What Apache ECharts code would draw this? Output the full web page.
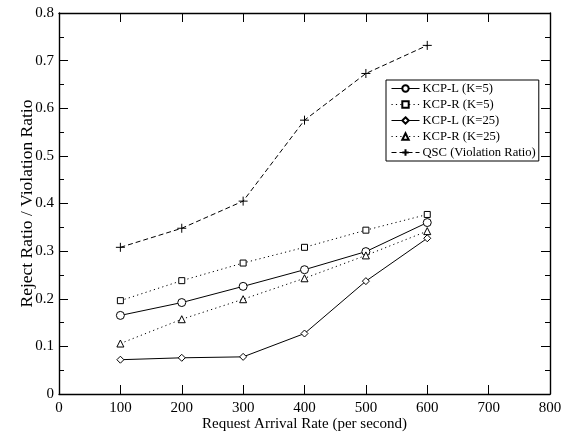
<!DOCTYPE html>
<html>
<head>
<meta charset="utf-8">
<script src="https://cdn.jsdelivr.net/npm/echarts@6/dist/echarts.min.js"></script>
<style>
html,body{margin:0;padding:0;background:#fff;}
#chart{width:569px;height:433px;}
</style>
</head>
<body>
<div id="chart"></div>
<script>
const xValues = [100, 200, 300, 400, 500, 600];
const kcpL5 = [0.165, 0.192, 0.226, 0.261, 0.299, 0.360];
const kcpR5 = [0.196, 0.238, 0.275, 0.308, 0.344, 0.377];
const kcpL25 = [0.072, 0.076, 0.078, 0.127, 0.237, 0.327];
const kcpR25 = [0.106, 0.157, 0.199, 0.243, 0.291, 0.342];
const qsc = [0.308, 0.348, 0.405, 0.575, 0.673, 0.732];
const seriesNames = ['KCP-L (K=5)', 'KCP-R (K=5)', 'KCP-L (K=25)', 'KCP-R (K=25)', 'QSC (Violation Ratio)'];
const xAxisTitle = 'Request Arrival Rate (per second)';
const yAxisTitle = 'Reject Ratio / Violation Ratio';

const FONT = 'Liberation Serif';
const pairs = arr => xValues.map((x, i) => [x, arr[i]]);
const axisLine = { show: true, onZero: false, lineStyle: { color: '#000', width: 1.4 } };
const tickStyle = { color: '#000', width: 1 };

function mkSeries(name, arr, symbol, size, lineType) {
  return {
    name, type: 'line', data: pairs(arr), symbol, symbolSize: size,
    lineStyle: { color: '#000', width: 1, type: lineType },
    itemStyle: { color: '#fff', borderColor: '#000', borderWidth: 1 },
    animation: false
  };
}

const chart = echarts.init(document.getElementById('chart'));
chart.setOption({
  backgroundColor: '#fff',
  animation: false,
  grid: { left: 59, right: 19, top: 13, bottom: 39, outerBoundsMode: 'none', containLabel: false },
  legend: {
    left: 386, top: 80, orient: 'vertical',
    borderColor: '#000', borderWidth: 1, backgroundColor: '#fff',
    padding: [2, 3, 2, 5], itemGap: 3, itemWidth: 28, itemHeight: 8,
    lineStyle: { width: 1 },
    textStyle: { fontFamily: FONT, fontSize: 12.6, color: '#000', padding: [0, 0, 0, -2] },
    data: seriesNames
  },
  xAxis: [{
    type: 'value', min: 0, max: 800, interval: 100, position: 'bottom',
    axisLine, axisTick: { inside: true, length: 9, lineStyle: tickStyle },
    axisLabel: { margin: 7, color: '#000', fontFamily: FONT, fontSize: 15 },
    splitLine: { show: false },
    name: xAxisTitle, nameLocation: 'middle', nameGap: 23, nameMoveOverlap: false,
    nameTextStyle: { fontFamily: FONT, fontSize: 15, color: '#000' }
  }, {
    type: 'value', min: 0, max: 800, interval: 100, position: 'top',
    axisLine, axisTick: { inside: true, length: 9, lineStyle: tickStyle },
    axisLabel: { show: false }, splitLine: { show: false }
  }],
  yAxis: [{
    type: 'value', min: 0, max: 0.8, interval: 0.1, position: 'left',
    axisLine, axisTick: { inside: true, length: 9, lineStyle: tickStyle },
    minorTick: { show: true, splitNumber: 2, length: 5, lineStyle: tickStyle },
    axisLabel: { margin: 5, color: '#000', fontFamily: FONT, fontSize: 15 },
    splitLine: { show: false },
    name: yAxisTitle, nameLocation: 'middle', nameGap: 23, nameRotate: 90, nameMoveOverlap: false,
    nameTextStyle: { fontFamily: FONT, fontSize: 17.5, color: '#000' }
  }, {
    type: 'value', min: 0, max: 0.8, interval: 0.1, position: 'right',
    axisLine, axisTick: { inside: true, length: 9, lineStyle: tickStyle },
    minorTick: { show: true, splitNumber: 2, length: 5, lineStyle: tickStyle },
    axisLabel: { show: false }, splitLine: { show: false }
  }],
  series: [
    mkSeries(seriesNames[0], kcpL5, 'circle', 8, 'solid'),
    mkSeries(seriesNames[1], kcpR5, 'rect', 6, [1.2, 3.2]),
    mkSeries(seriesNames[2], kcpL25, 'diamond', 7, 'solid'),
    mkSeries(seriesNames[3], kcpR25, 'triangle', 7, [1.2, 3.2]),
    Object.assign(mkSeries(seriesNames[4], qsc, 'path://M5,0L5,10M0,5L10,5', 9, [5, 3]),
      { itemStyle: { color: 'none', borderColor: '#000', borderWidth: 1 } })
  ]
});
</script>
</body>
</html>
